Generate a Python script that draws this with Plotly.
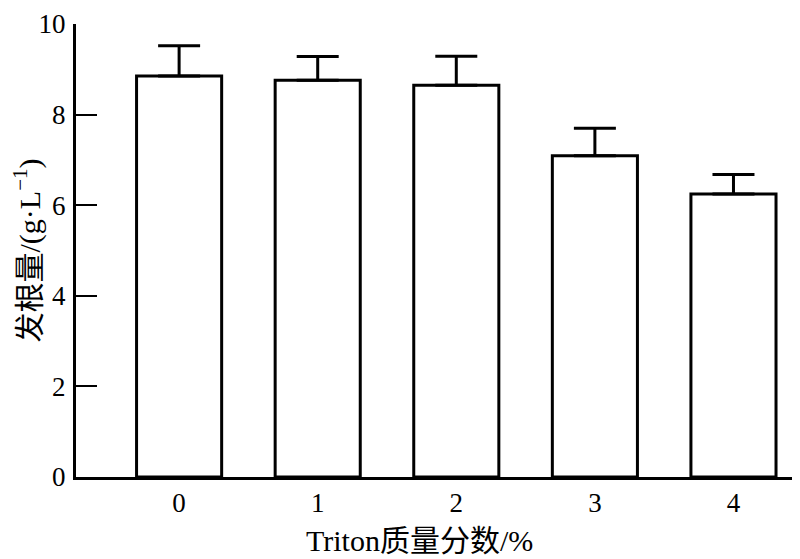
import plotly.graph_objects as go

categories = [0, 1, 2, 3, 4]
values = [8.85, 8.76, 8.65, 7.09, 6.25]
errors = [0.67, 0.52, 0.64, 0.61, 0.43]
y_ticks = [0, 2, 4, 6, 8, 10]

FONT = "Liberation Serif, Times New Roman, Noto Sans CJK SC, serif"

fig = go.Figure()
fig.add_trace(go.Bar(
    x=categories,
    y=values,
    width=0.614,
    marker=dict(color="white", line=dict(color="black", width=3)),
    error_y=dict(type="data", array=errors, arrayminus=[0] * len(errors),
                 symmetric=False, color="black", thickness=3, width=21),
))

# page body has an 8px default margin, so the figure is sized to fit inside the window
fig.update_layout(
    width=792, height=551,
    margin=dict(l=68, r=0, t=16, b=82),
    paper_bgcolor="white", plot_bgcolor="white",
    font=dict(family=FONT, size=27, color="black"),
    showlegend=False,
    xaxis=dict(
        range=[-0.744, 4.48], tickvals=categories, ticktext=[str(c) for c in categories],
        showline=True, linecolor="black", linewidth=3, ticks="", showgrid=False,
        zeroline=False, tickfont=dict(size=27), automargin=False,
    ),
    yaxis=dict(
        range=[0, 10], tickvals=y_ticks, showline=True, linecolor="black", linewidth=3,
        ticks="inside", ticklen=21, tickwidth=2, tickcolor="black",
        showgrid=False, zeroline=False, tickfont=dict(size=27), automargin=False,
        ticklabelstandoff=2,
        title=dict(text="发根量/(g·L<sup>−1</sup>)", font=dict(size=30), standoff=2),
    ),
    annotations=[dict(
        text="Triton质量分数/%", xref="paper", yref="paper", x=0.474, y=0,
        yshift=-63, xanchor="center", yanchor="middle", showarrow=False,
        font=dict(size=30),
    )],
)

fig.write_html("out.html")
